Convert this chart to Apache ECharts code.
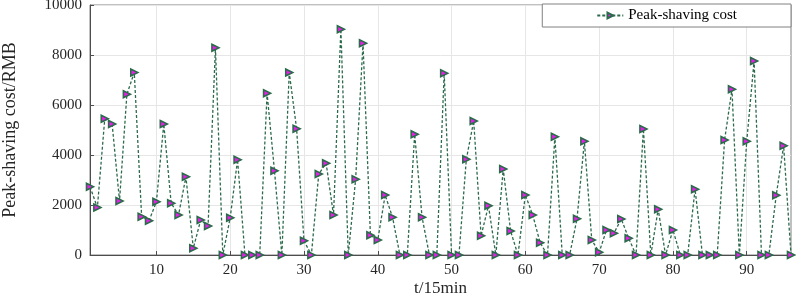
<!DOCTYPE html>
<html>
<head>
<meta charset="utf-8">
<script src="https://cdn.jsdelivr.net/npm/echarts@6/dist/echarts.min.js"></script>
<style>
  html, body { margin: 0; padding: 0; background: #fff; }
  #chart { width: 796px; height: 294px; }
</style>
</head>
<body>
<div id="chart"></div>
<script>
// time slots t = 1..96 (15 min each)
const slots = Array.from({ length: 96 }, (_, i) => i + 1);

// peak-shaving cost per slot
const peakCost = [
  2730, 1900, 5450, 5240, 2160, 6430, 7300, 1530, 1370, 2130,
  5240, 2070, 1600, 3130, 270, 1400, 1160, 8290, 0, 1490,
  3810, 0, 0, 0, 6470, 3370, 0, 7300, 5050, 570,
  0, 3240, 3670, 1600, 9030, 0, 3030, 8470, 790, 600,
  2400, 1510, 0, 0, 4830, 1510, 0, 0, 7270, 0,
  0, 3830, 5360, 770, 1970, 0, 3440, 960, 0, 2400,
  1600, 490, 0, 4730, 0, 0, 1450, 4550, 600, 110,
  1000, 870, 1440, 670, 0, 5040, 0, 1830, 0, 1000,
  0, 0, 2630, 0, 0, 0, 4600, 6630, 0, 4550,
  7760, 0, 0, 2390, 4370, 0
];

const xTicks = [10, 20, 30, 40, 50, 60, 70, 80, 90];
const seriesName = "Peak-shaving cost";

const FONT = "'Liberation Serif', 'Times New Roman', serif";
const TEXT_COLOR = "#262626";
const LINE_GREEN = "#2b6b4c";

const chart = echarts.init(document.getElementById("chart"));

const option = {
  animation: false,
  backgroundColor: "#fff",
  grid: {
    left: 90,
    right: 5,
    top: 5,
    bottom: 39,
    containLabel: false,
    outerBoundsMode: "none",
    show: true,
    borderColor: "#808080",
    borderWidth: 1,
  },
  legend: {
    data: [seriesName],
    right: 5,
    top: 4,
    itemWidth: 26,
    itemHeight: 7,
    padding: [4, 54, 4, 54],
    backgroundColor: "#fff",
    borderColor: "#808080",
    borderWidth: 1,
    textStyle: { fontFamily: FONT, fontSize: 15, color: "#000" },
  },
  xAxis: {
    type: "value",
    min: 1,
    max: 96,
    name: "t/15min",
    nameLocation: "middle",
    nameGap: 25,
    nameMoveOverlap: false,
    nameTextStyle: { fontFamily: FONT, fontSize: 17, color: TEXT_COLOR },
    axisLine: { show: true, lineStyle: { color: "#4d4d4d" } },
    axisTick: { show: true, inside: true, length: 4, customValues: xTicks, lineStyle: { color: "#4d4d4d" } },
    axisLabel: { customValues: xTicks, fontFamily: FONT, fontSize: 15, color: TEXT_COLOR, margin: 8 },
    splitLine: { show: true, lineStyle: { color: "#e6e6e6" } },
  },
  yAxis: {
    type: "value",
    min: 0,
    max: 10000,
    interval: 2000,
    name: "Peak-shaving cost/RMB",
    nameLocation: "middle",
    nameGap: 71,
    nameMoveOverlap: false,
    nameTextStyle: { fontFamily: FONT, fontSize: 18, color: TEXT_COLOR },
    axisLine: { show: true, lineStyle: { color: "#4d4d4d" } },
    axisTick: { show: true, inside: true, length: 4, lineStyle: { color: "#4d4d4d" } },
    axisLabel: {
      fontFamily: FONT, fontSize: 15, color: TEXT_COLOR, margin: 8,
      formatter: (v) => String(v),
    },
    splitLine: { show: true, lineStyle: { color: "#e6e6e6" } },
  },
  series: [
    {
      name: seriesName,
      type: "line",
      data: slots.map((t, i) => [t, peakCost[i]]),
      symbol: "triangle",
      symbolRotate: -90,
      symbolSize: 7,
      showAllSymbol: true,
      lineStyle: { color: LINE_GREEN, width: 1.3, type: [3, 2] },
      itemStyle: { color: "#e81ee8", borderColor: LINE_GREEN, borderWidth: 1.6 },
      emphasis: { disabled: true },
    },
  ],
};

chart.setOption(option);
</script>
</body>
</html>
